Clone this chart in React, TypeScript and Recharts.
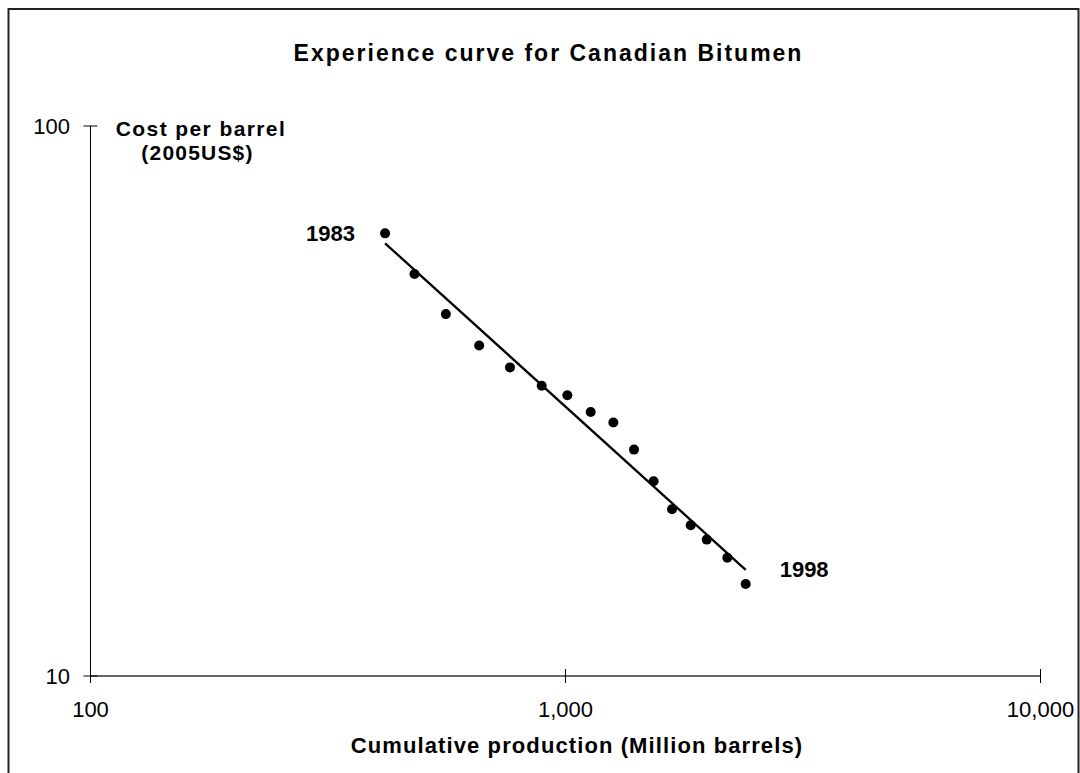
import React from "react";
import { ScatterChart, Scatter, XAxis, YAxis, Customized } from "recharts";

const years = [1983, 1984, 1985, 1986, 1987, 1988, 1989, 1990, 1991, 1992, 1993, 1994, 1995, 1996, 1997, 1998];
const cumulativeProduction = [417, 481, 560, 658, 764, 891, 1009, 1130, 1261, 1394, 1533, 1676, 1835, 1983, 2191, 2395];
const costPerBarrel = [63.8, 53.8, 45.5, 39.9, 36.4, 33.7, 32.4, 30.2, 28.9, 25.8, 22.6, 20.1, 18.8, 17.7, 16.4, 14.7];
const labelledYears = [1983, 1998];
const trendX = [417, 2395];
const trendY = [61.2, 15.6];
const xTicks = [100, 1000, 10000];
const yTicks = [10, 100];

const title = "Experience curve for Canadian Bitumen";
const yTitle = ["Cost per barrel", "(2005US$)"];
const xTitle = "Cumulative production (Million barrels)";

const FONT = "'Liberation Sans', Arial, sans-serif";

const points = years.map((yr, i) => ({
  x: cumulativeProduction[i],
  y: costPerBarrel[i],
  year: yr,
}));
const trend = trendX.map((x, i) => ({ x, y: trendY[i] }));

const fmt = (v: number) => v.toLocaleString("en-US");

const XTick = (props: any) => {
  const { x, y, payload } = props;
  return (
    <g>
      <line x1={x} x2={x} y1={y - 7} y2={y + 7} stroke="#000" strokeWidth={1} />
      <text x={x} y={y + 41} textAnchor="middle" fontFamily={FONT} fontSize={22} fill="#000">
        {fmt(payload.value)}
      </text>
    </g>
  );
};

const YTick = (props: any) => {
  const { x, y, payload } = props;
  return (
    <g>
      <line x1={x - 7} x2={x + 7} y1={y} y2={y} stroke="#000" strokeWidth={1} />
      <text x={x - 20.5} y={y + 7.5} textAnchor="end" fontFamily={FONT} fontSize={22} fill="#000">
        {fmt(payload.value)}
      </text>
    </g>
  );
};

const Dot = (props: any) => {
  const { cx, cy, payload } = props;
  const idx = labelledYears.indexOf(payload.year);
  return (
    <g>
      <circle cx={cx} cy={cy} r={5} fill="#000" />
      {idx === 0 && (
        <text x={cx - 30} y={cy + 7.5} textAnchor="end" fontFamily={FONT} fontSize={22} fontWeight="bold" fill="#000">
          {payload.year}
        </text>
      )}
      {idx === 1 && (
        <text x={cx + 34} y={cy - 7} textAnchor="start" fontFamily={FONT} fontSize={22} fontWeight="bold" fill="#000">
          {payload.year}
        </text>
      )}
    </g>
  );
};

const Decor = () => (
  <g>
    <rect x={8.5} y={9} width={1070} height={820} fill="none" stroke="#222" strokeWidth={2} />
    <text x={548.5} y={61} textAnchor="middle" fontFamily={FONT} fontSize={23} fontWeight="bold" letterSpacing={2} fill="#000">
      {title}
    </text>
    <text x={201} y={136} textAnchor="middle" fontFamily={FONT} fontSize={21} fontWeight="bold" letterSpacing={1.4} fill="#000">
      {yTitle[0]}
    </text>
    <text x={197.5} y={160} textAnchor="middle" fontFamily={FONT} fontSize={21} fontWeight="bold" letterSpacing={1.2} fill="#000">
      {yTitle[1]}
    </text>
    <text x={577} y={753} textAnchor="middle" fontFamily={FONT} fontSize={22} fontWeight="bold" letterSpacing={1.1} fill="#000">
      {xTitle}
    </text>
  </g>
);

export default function App() {
  return (
    <div style={{ position: "absolute", left: 0, top: 0, width: 1080, height: 773, background: "#fff" }}>
      <ScatterChart
        width={1080}
        height={773}
        margin={{ top: 126, right: 39.5, left: 0, bottom: 0 }}
      >
        <Customized component={Decor} />
        <XAxis
          type="number"
          dataKey="x"
          scale="log"
          domain={[100, 10000]}
          ticks={xTicks}
          allowDataOverflow
          height={97}
          tickSize={0}
          tickMargin={0}
          tickLine={false}
          axisLine={{ stroke: "#333", strokeWidth: 1.3 }}
          tick={<XTick />}
          interval={0}
        />
        <YAxis
          type="number"
          dataKey="y"
          scale="log"
          domain={[10, 100]}
          ticks={yTicks}
          allowDataOverflow
          width={90.5}
          tickSize={0}
          tickMargin={0}
          tickLine={false}
          axisLine={{ stroke: "#000", strokeWidth: 1 }}
          tick={<YTick />}
          interval={0}
        />
        <Scatter
          data={trend}
          fill="#000"
          line={{ stroke: "#000", strokeWidth: 2.3 }}
          shape={() => <g />}
          isAnimationActive={false}
        />
        <Scatter data={points} fill="#000" shape={<Dot />} isAnimationActive={false} />
      </ScatterChart>
    </div>
  );
}
